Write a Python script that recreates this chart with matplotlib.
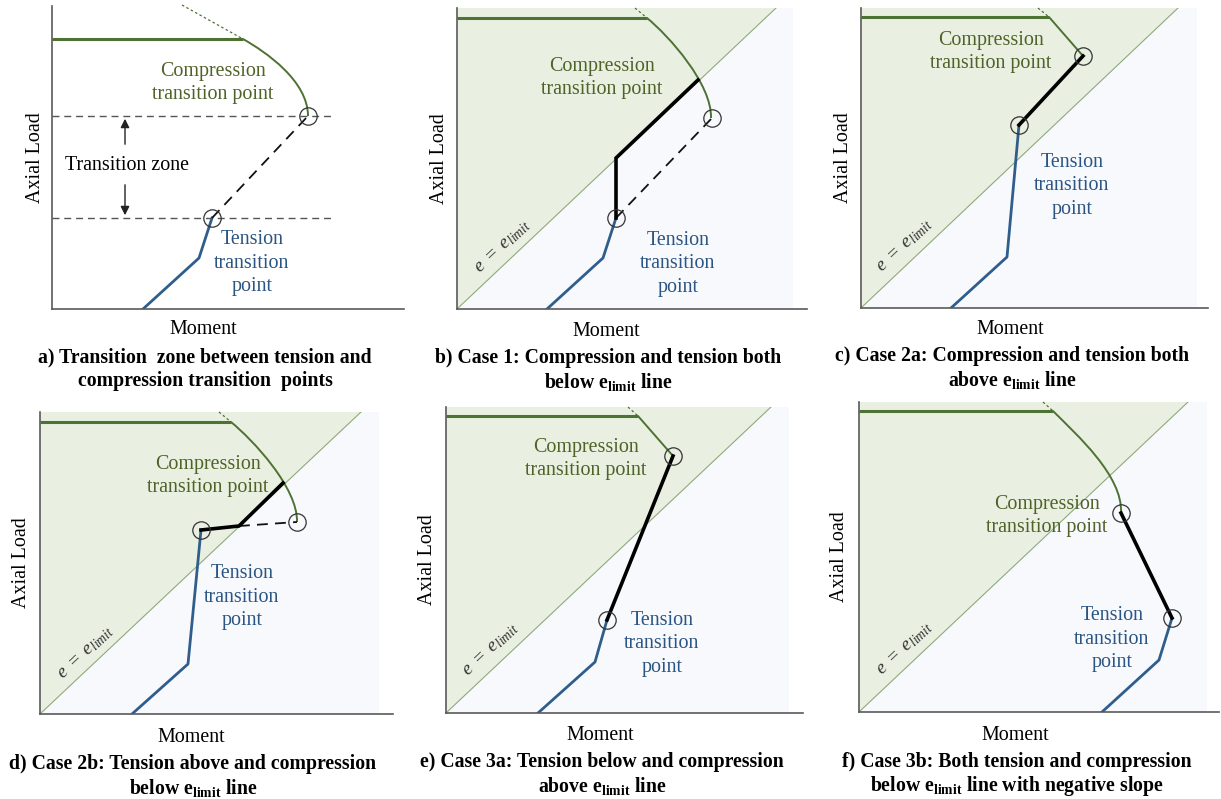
import matplotlib.pyplot as plt
import numpy as np
from matplotlib.path import Path
from matplotlib.patches import PathPatch

plt.rcParams['font.family'] = ['Liberation Serif', 'DejaVu Serif']
plt.rcParams['mathtext.fontset'] = 'custom'
plt.rcParams['mathtext.rm'] = 'Liberation Serif'
plt.rcParams['mathtext.it'] = 'Liberation Serif:italic'
plt.rcParams['mathtext.bf'] = 'Liberation Serif:bold'

FIG_W, FIG_H = 1221, 799

GREEN = '#4e7233'
GREEN_TXT = '#4f6228'
BLUE = '#2f5e8c'
BLUE_TXT = '#2b5582'
FILL_G = '#e9f0e1'
FILL_W = '#f8f9fd'
DIAG = '#8fa97c'
AXIS = '#5a5a5a'

# ---- data (moment, axial load) ----
# compression curves: start, two bezier handles, end (straight ones: start, end)
# a) transition zone
a_flat = [(0, 270), (191, 270)]
a_curve = [(191, 270), (214, 257), (256, 228), (256, 193)]
a_dot = [(130, 304), (191, 270)]
a_tens = [(91, 0), (147, 51), (160, 91)]
a_link = []
a_dash = [(160, 91), (256, 193)]
a_pts = [(256, 193), (160, 91)]
a_zone = [91, 193]

# b) case 1
b_flat = [(0, 291), (190, 291)]
b_curve = [(190, 291), (212, 273), (255, 225), (254, 191)]
b_dot = [(178, 301), (190, 291)]
b_tens = [(90, 0), (146, 51), (159, 91)]
b_link = [(159, 91), (159, 151), (241, 229)]
b_dash = [(159, 91), (255, 191)]
b_pts = [(255, 191), (159, 91)]
b_diag = [(0, 0), (319, 301)]

# c) case 2a
c_flat = [(0, 291), (188, 291)]
c_curve = [(188, 291), (222, 252)]
c_dot = [(177, 300), (188, 291)]
c_tens = [(90, 0), (146, 51), (158, 183)]
c_link = [(222, 252), (158, 183)]
c_dash = []
c_pts = [(222, 252), (158, 183)]
c_diag = [(0, 0), (317, 300)]

# d) case 2b
d_flat = [(0, 292), (191, 292)]
d_curve = [(191, 292), (213, 274), (258, 226), (257, 192)]
d_dot = [(179, 302), (191, 292)]
d_tens = [(92, 0), (148, 50), (161, 184)]
d_link = [(161, 184), (199, 188), (243, 231)]
d_dash = [(199, 188), (257, 192)]
d_pts = [(257, 192), (161, 184)]
d_diag = [(0, 0), (321, 302)]

# e) case 3a
e_flat = [(0, 297), (192, 297)]
e_curve = [(192, 297), (227, 257)]
e_dot = [(182, 306), (192, 297)]
e_tens = [(92, 0), (149, 51), (161, 93)]
e_link = [(227, 257), (161, 93)]
e_dash = []
e_pts = [(227, 257), (161, 93)]
e_diag = [(0, 0), (325, 306)]

# f) case 3b
f_flat = [(0, 301), (194, 301)]
f_curve = [(194, 301), (218, 277), (264, 236), (262, 199)]
f_dot = [(184, 310), (194, 301)]
f_tens = [(243, 0), (300, 52), (313, 94)]
f_link = [(262, 199), (313, 94)]
f_dash = []
f_pts = [(262, 199), (313, 94)]
f_diag = [(0, 0), (329, 310)]

captions = {
    'a': ['a) Transition  zone between tension and', 'compression transition  points'],
    'b': ['b) Case 1: Compression and tension both', r'below $\mathbf{e_{limit}}$ line'],
    'c': ['c) Case 2a: Compression and tension both', r'above $\mathbf{e_{limit}}$ line'],
    'd': ['d) Case 2b: Tension above and compression', r'below $\mathbf{e_{limit}}$ line'],
    'e': ['e) Case 3a: Tension below and compression', r'above $\mathbf{e_{limit}}$ line'],
    'f': ['f) Case 3b: Both tension and compression',
          r'below $\mathbf{e_{limit}}$ line with negative slope'],
}

# ---- layout: axis origin (px from left, px from top), axis lengths ----
frames = {'a': (52, 309, 352, 303), 'b': (457, 309, 350, 301), 'c': (861, 308, 347, 300),
          'd': (40, 714, 353, 302), 'e': (446, 713, 357, 306), 'f': (859, 712, 360, 310)}
fill_right = {'b': 336, 'c': 336, 'd': 339, 'e': 343, 'f': 348}
comp_txt = {'a': (161, 226), 'b': (145, 231), 'c': (130, 256), 'd': (168, 238),
            'e': (140, 254), 'f': (188, 196)}
tens_txt = {'a': (200, 46), 'b': (221, 45), 'c': (211, 122), 'd': (202, 117),
            'e': (216, 69), 'f': (253, 73)}
elim_txt = {'b': (46, 62), 'c': (44, 62), 'd': (46, 61), 'e': (45, 63), 'f': (46, 63)}
label_off = {'a': (-17, -21, 153), 'b': (-18, -22, 151), 'c': (-18, -21, 151),
             'd': (-18, -23, 153), 'e': (-19, -22, 156), 'f': (-20, -23, 158)}

panels = {
    'a': (a_flat, a_curve, a_dot, a_tens, a_link, a_dash, a_pts, None),
    'b': (b_flat, b_curve, b_dot, b_tens, b_link, b_dash, b_pts, b_diag),
    'c': (c_flat, c_curve, c_dot, c_tens, c_link, c_dash, c_pts, c_diag),
    'd': (d_flat, d_curve, d_dot, d_tens, d_link, d_dash, d_pts, d_diag),
    'e': (e_flat, e_curve, e_dot, e_tens, e_link, e_dash, e_pts, e_diag),
    'f': (f_flat, f_curve, f_dot, f_tens, f_link, f_dash, f_pts, f_diag),
}

LBL = 14.4


def xy(pts):
    arr = np.array(pts, dtype=float)
    return arr[:, 0], arr[:, 1]


def curve_patch(pts):
    if len(pts) == 4:
        codes = [Path.MOVETO, Path.CURVE4, Path.CURVE4, Path.CURVE4]
    else:
        codes = [Path.MOVETO] + [Path.LINETO] * (len(pts) - 1)
    return PathPatch(Path(pts, codes), fc='none', ec=GREEN, lw=1.4, zorder=3)


fig = plt.figure(figsize=(FIG_W / 100, FIG_H / 100), dpi=100)

for key, (flat, curve, dot, tens, link, dash, pts, diag) in panels.items():
    x0, y0, W, H = frames[key]
    ax = fig.add_axes([x0 / FIG_W, (FIG_H - y0) / FIG_H, W / FIG_W, H / FIG_H])
    ax.set_xlim(0, W)
    ax.set_ylim(0, H)
    ax.set_facecolor('none')
    for s in ['top', 'right']:
        ax.spines[s].set_visible(False)
    for s in ['left', 'bottom']:
        ax.spines[s].set_color(AXIS)
        ax.spines[s].set_linewidth(1.2)
        ax.spines[s].set_zorder(6)
    ax.set_xticks([])
    ax.set_yticks([])

    if diag is not None:
        dx, dy = diag[1]
        fr = fill_right[key]
        ax.fill([0, dx, 0], [0, H, H], color=FILL_G, lw=0, zorder=0)
        ax.fill([0, fr, fr, dx], [0, 0, H, H], color=FILL_W, lw=0, zorder=0)
        ax.plot(*xy(diag), color=DIAG, lw=0.8, zorder=1)
        ang = np.degrees(np.arctan2(dy, dx))
        ex, ey = elim_txt[key]
        ax.text(ex, ey, r'$e\ =\ e_{limit}$', rotation=ang, ha='center', va='center',
                fontsize=14, color='#333333', rotation_mode='anchor')

    if key == 'a':
        for lvl in a_zone:
            ax.plot([0, 281], [lvl, lvl], color='#555555', lw=1.0, dashes=(5, 3.5), zorder=2,
                    clip_on=False)
        ax.annotate('', xy=(73, a_zone[1]), xytext=(73, 162),
                    arrowprops=dict(arrowstyle='-|>', color='#222222', lw=1, mutation_scale=13))
        ax.annotate('', xy=(73, a_zone[0]), xytext=(73, 127),
                    arrowprops=dict(arrowstyle='-|>', color='#222222', lw=1, mutation_scale=13))
        ax.text(75, 144, 'Transition zone', ha='center', va='center', fontsize=LBL)

    ax.plot(*xy(dot), color=GREEN, lw=0.9, ls=(0, (2, 2)), zorder=3, clip_on=False)
    ax.plot(*xy(flat), color=GREEN, lw=2.2, zorder=3, solid_capstyle='butt')
    ax.add_patch(curve_patch(curve))
    ax.plot(*xy(tens), color=BLUE, lw=2.0, zorder=3)
    if dash:
        ax.plot(*xy(dash), color='#111111', lw=1.3, dashes=(6, 4), zorder=3)
    if link:
        ax.plot(*xy(link), color='black', lw=2.6, zorder=4, solid_joinstyle='miter')
    px, py = xy(pts)
    ax.plot(px, py, 'o', ms=12.5, mfc='none', mec='#333333', mew=0.9, zorder=5, clip_on=False)

    cx, cy = comp_txt[key]
    ax.text(cx, cy, 'Compression\ntransition point', ha='center', va='center',
            fontsize=LBL, color=GREEN_TXT, linespacing=1.3, zorder=6)
    tx, ty = tens_txt[key]
    ax.text(tx, ty, 'Tension\ntransition\npoint', ha='center', va='center',
            fontsize=LBL, color=BLUE_TXT, linespacing=1.3, zorder=6)

    lx, my, capx = label_off[key]
    ax.text(lx, H / 2, 'Axial Load', rotation=90, ha='center', va='center', fontsize=LBL)
    ax.text(capx - 2, my, 'Moment', ha='center', va='center', fontsize=LBL)
    l1, l2 = captions[key]
    ax.text(capx, my - 27, l1, ha='center', va='center', fontsize=14.2, fontweight='bold')
    ax.text(capx, my - 51, l2, ha='center', va='center', fontsize=14.2, fontweight='bold')

fig.savefig('out.png', dpi=100)
